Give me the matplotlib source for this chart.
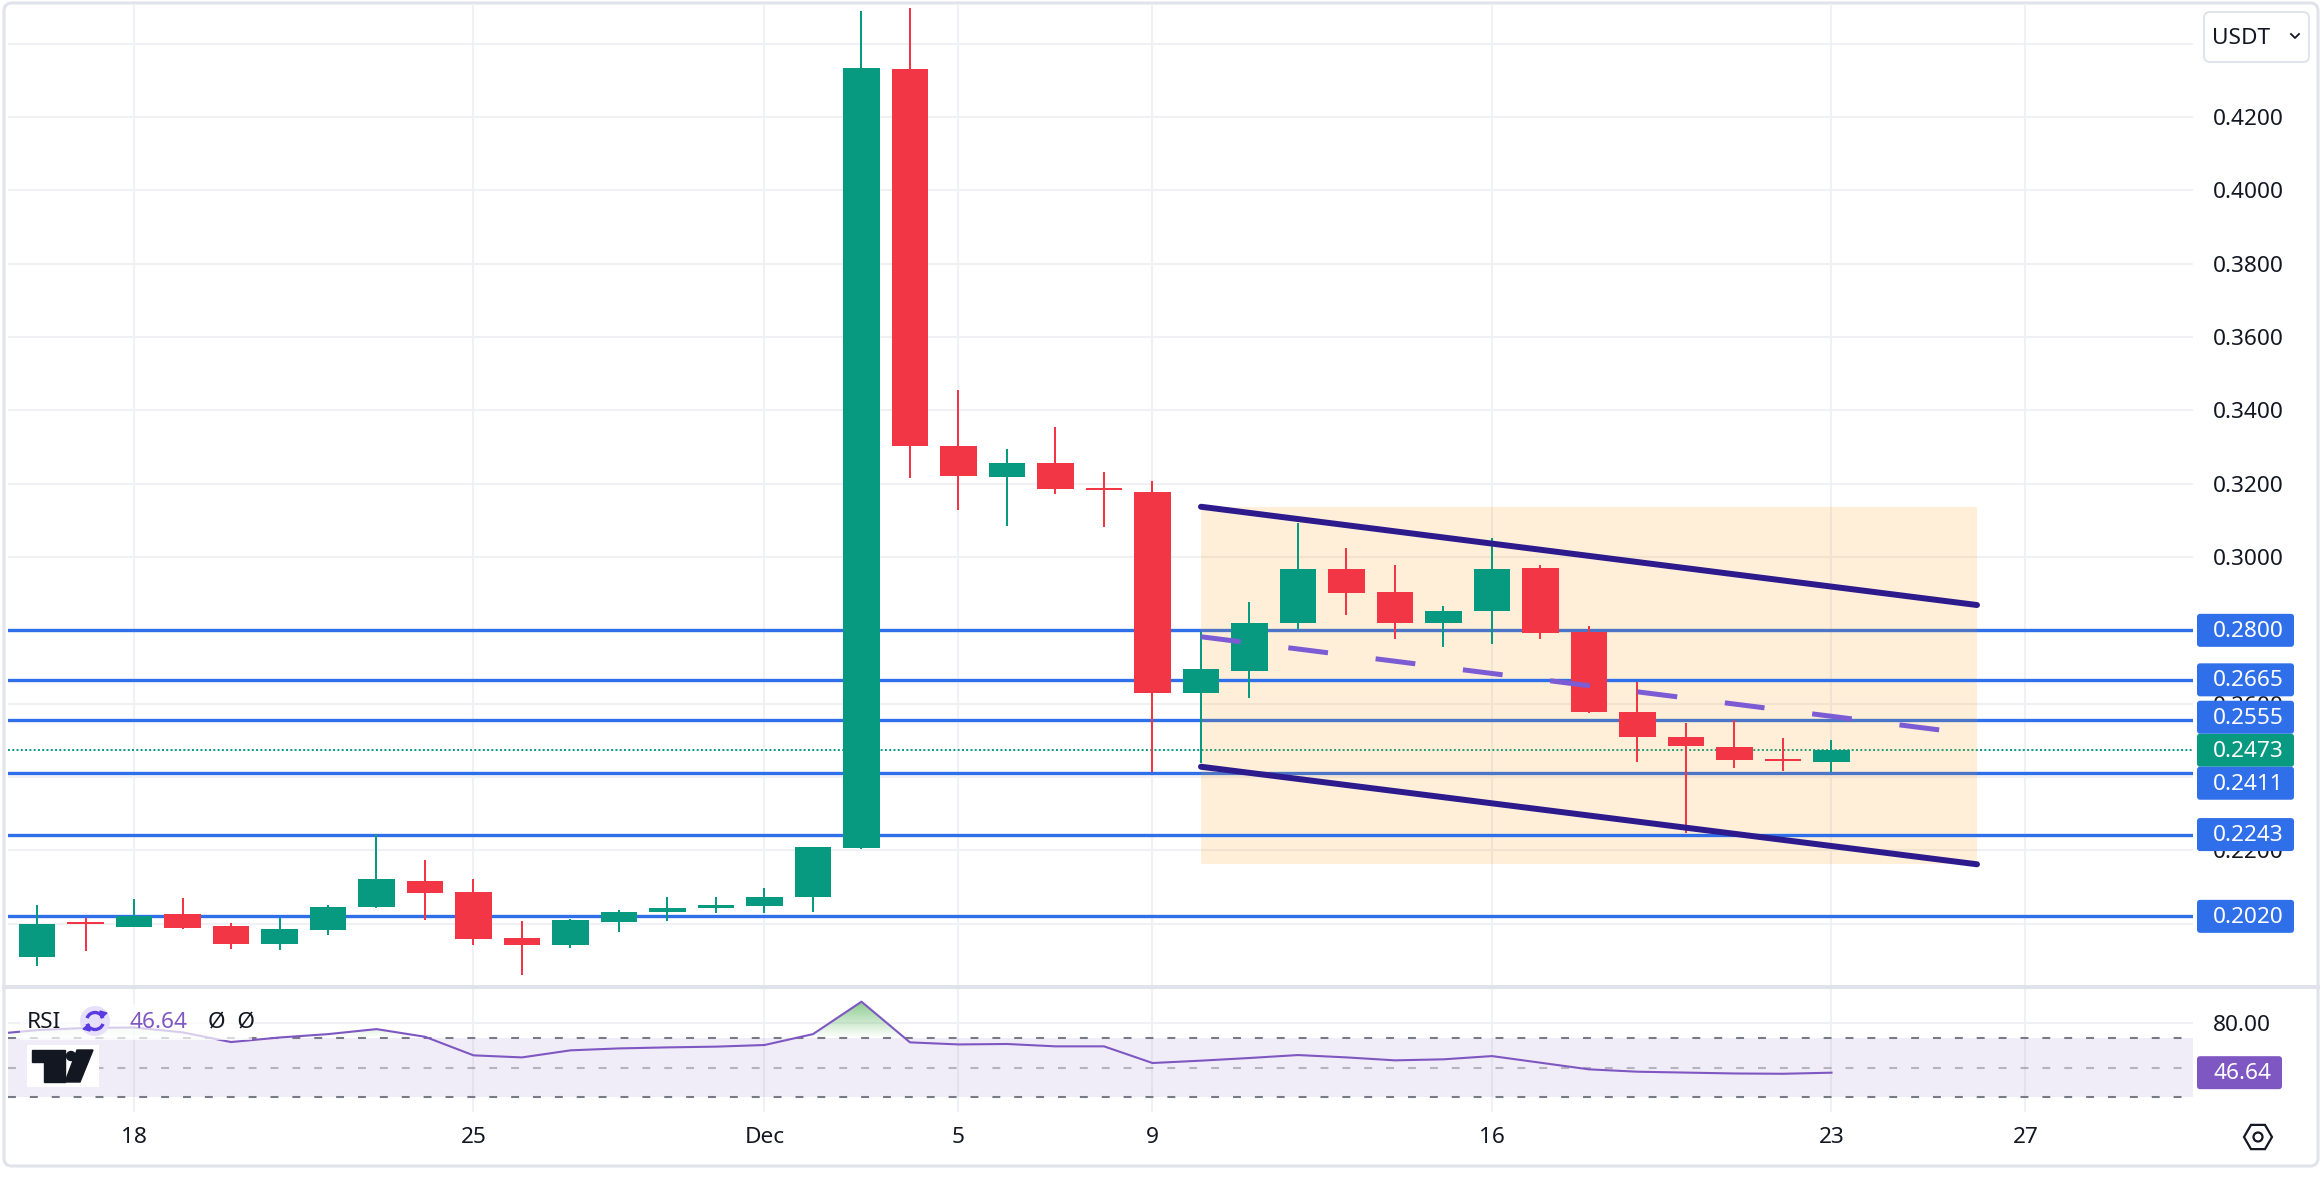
import matplotlib
matplotlib.use('Agg')
import matplotlib.pyplot as plt
from matplotlib.patches import FancyBboxPatch, Rectangle, Polygon, Circle, RegularPolygon, Arc
from matplotlib.colors import LinearSegmentedColormap
from matplotlib.path import Path
import numpy as np

plt.rcParams['font.family'] = ['Noto Sans', 'DejaVu Sans']

# day index: 0 = 16 Nov
days = np.arange(38)
opens = [0.1908, 0.2003, 0.1992, 0.2026, 0.1994, 0.1945, 0.1982, 0.2045, 0.2116, 0.2086,
         0.1961, 0.1943, 0.2005, 0.2031, 0.2042, 0.2048, 0.2072, 0.2207, 0.4331, 0.3304,
         0.3219, 0.3255, 0.3187, 0.3177, 0.2628, 0.2690, 0.2819, 0.2967, 0.2905, 0.2821,
         0.2854, 0.2969, 0.2795, 0.2578, 0.2510, 0.2483, 0.2448, 0.2440]
highs = [0.2051, 0.2016, 0.2067, 0.2069, 0.2001, 0.2016, 0.2051, 0.2245, 0.2174, 0.2121,
         0.2008, 0.2013, 0.2037, 0.2073, 0.2073, 0.2097, 0.2209, 0.4490, 0.4498, 0.3455,
         0.3294, 0.3355, 0.3231, 0.3208, 0.2796, 0.2876, 0.3094, 0.3024, 0.2978, 0.2867,
         0.3051, 0.2978, 0.2813, 0.2660, 0.2546, 0.2556, 0.2506, 0.2501]
lows = [0.1885, 0.1925, 0.1990, 0.1986, 0.1931, 0.1928, 0.1968, 0.2044, 0.2011, 0.1942,
        0.1860, 0.1935, 0.1976, 0.2008, 0.2028, 0.2028, 0.2033, 0.2205, 0.3216, 0.3128,
        0.3085, 0.3172, 0.3081, 0.2413, 0.2437, 0.2615, 0.2803, 0.2842, 0.2776, 0.2754,
        0.2762, 0.2776, 0.2575, 0.2442, 0.2247, 0.2424, 0.2417, 0.2413]
closes = [0.2000, 0.1999, 0.2022, 0.1989, 0.1945, 0.1986, 0.2045, 0.2121, 0.2083, 0.1958,
          0.1943, 0.2010, 0.2032, 0.2043, 0.2051, 0.2074, 0.2208, 0.4333, 0.3302, 0.3221,
          0.3255, 0.3186, 0.3183, 0.2628, 0.2694, 0.2819, 0.2967, 0.2903, 0.2819, 0.2853,
          0.2967, 0.2794, 0.2578, 0.2510, 0.2485, 0.2446, 0.2444, 0.2473]

rsi_days = np.arange(-1, 38)
rsi = [72.5, 75.5, 77.0, 77.3, 74.0, 67.4, 70.5, 72.8, 76.2, 71.0,
       58.4, 57.0, 61.8, 63.1, 63.8, 64.3, 65.4, 72.8, 94.8, 67.2,
       65.8, 66.1, 64.5, 64.5, 53.2, 54.8, 56.6, 58.6, 57.0, 55.0,
       55.7, 57.9, 53.4, 48.9, 47.3, 46.7, 46.1, 45.9, 46.64]

tick_days = [2, 9, 15, 19, 23, 30, 37, 41]
tick_labels = ['18', '25', 'Dec', '5', '9', '16', '23', '27']

levels = [0.2800, 0.2665, 0.2555, 0.2411, 0.2243, 0.2020]
level_on_top = [False, True, False, False, True, True]
last_price = 0.2473
rsi_last = 46.64

chan_x = [24, 40]
chan_upper = [0.3137, 0.2869]
chan_lower = [0.2428, 0.2162]

GREEN = '#089981'
RED = '#f23645'
BLUE = '#2f6fea'
PURPLE = '#7e57c2'
TXT = '#131722'
GRID = '#f0f1f5'
FS = 16.3

W, H = 2323, 1180
fig = plt.figure(figsize=(W / 100, H / 100), dpi=100)


def fx(px):
    return px / W


def fy(py):
    return 1 - py / H


ax = fig.add_axes([fx(8), fy(985), fx(2193) - fx(8), fy(5) - fy(985)])
ax2 = fig.add_axes([fx(8), fy(1112), fx(2193) - fx(8), fy(989) - fy(1112)])
xlim = (-0.598, 44.454)

# ---- price pane ----
ax.set_xlim(*xlim)
ax.set_ylim(0.18328, 0.45053)
yt = np.round(np.arange(0.20, 0.441, 0.02), 2)
ax.set_yticks(yt, [f'{v:.4f}' for v in yt])
ax.set_xticks(tick_days)
ax.yaxis.tick_right()
ax.tick_params(axis='y', length=0, pad=14.4, labelsize=FS, labelcolor=TXT)
ax.tick_params(axis='x', length=0, labelbottom=False)
ax.set_axisbelow(True)
ax.grid(color=GRID, lw=1.5)
for s in ax.spines.values():
    s.set_visible(False)

for lv, top in zip(levels, level_on_top):
    ax.axhline(lv, color=BLUE, lw=2.4, zorder=4 if top else 2)
ax.axhline(last_price, color=GREEN, lw=1.4, ls=(0, (1, 1.2)), zorder=2)

ax.add_patch(Rectangle((chan_x[0], min(chan_lower)), chan_x[1] - chan_x[0],
                       max(chan_upper) - min(chan_lower), facecolor='#ff9800',
                       alpha=0.15, edgecolor='none', zorder=3))

o = np.array(opens); c = np.array(closes)
cols = [GREEN if cc >= oo else RED for oo, cc in zip(o, c)]
ax.vlines(days, lows, highs, colors=cols, lw=1.44, zorder=5)
body = np.maximum(np.abs(c - o), 0.0006)
ax.bar(days, body, bottom=(o + c) / 2 - body / 2, width=0.76, color=cols, zorder=6)

mid = [(u + l) / 2 for u, l in zip(chan_upper, chan_lower)]
ax.plot(chan_x, mid, color='#7c5cd4', lw=3.6, dashes=(8, 9.6), solid_capstyle='butt',
        zorder=7)
ax.plot(chan_x, chan_upper, color='#2d1b8e', lw=4.3, solid_capstyle='round', zorder=8)
ax.plot(chan_x, chan_lower, color='#2d1b8e', lw=4.3, solid_capstyle='round', zorder=8)

# ---- RSI pane ----
ax2.set_xlim(*xlim)
ax2.set_ylim(19.97, 103.4)
ax2.set_yticks([80], ['80.00'])
ax2.yaxis.tick_right()
ax2.set_xticks(tick_days, tick_labels)
ax2.tick_params(axis='y', length=0, pad=14.4, labelsize=FS, labelcolor=TXT)
ax2.tick_params(axis='x', length=0, pad=11, labelsize=FS, labelcolor=TXT)
for lbl in ax2.get_xticklabels():
    if lbl.get_text() == 'Dec':
        lbl.set_fontweight('bold')
ax2.set_axisbelow(True)
ax2.grid(color=GRID, lw=1.5)
for s in ax2.spines.values():
    s.set_visible(False)

ax2.axhspan(30, 70, color=PURPLE, alpha=0.1, lw=0, zorder=1)
ax2.axhline(70, color='#787b86', lw=1.5, dashes=(3.8, 6.7), zorder=2)
ax2.axhline(30, color='#787b86', lw=1.5, dashes=(3.8, 6.7), zorder=2)
ax2.axhline(50, color='#787b86', lw=1.5, alpha=0.5, dashes=(3.8, 6.7), zorder=2)

r = np.array(rsi)
fb = ax2.fill_between(rsi_days, r, 70, where=r > 70, interpolate=True,
                      facecolor='none', edgecolor='none')
clip = Path.make_compound_path(*fb.get_paths())
cmap = LinearSegmentedColormap.from_list(
    'ob', [(0.30, 0.69, 0.31, 0.0), (0.30, 0.69, 0.31, 0.8)])
im = ax2.imshow(np.linspace(0, 1, 200).reshape(-1, 1), extent=(-1, 38, 70, 100),
                origin='lower', aspect='auto', cmap=cmap, zorder=2.5)
im.set_clip_path(clip, transform=ax2.transData)
ax2.plot(rsi_days, r, color=PURPLE, lw=1.5, zorder=3)
ax2.set_xlim(*xlim)
ax2.set_ylim(19.97, 103.4)

# ---- overlay in pixel coordinates ----
ov = fig.add_axes([0, 0, 1, 1])
ov.set_xlim(0, W)
ov.set_ylim(H, 0)
ov.axis('off')
ov.set_zorder(10)
ov.patch.set_visible(False)


def py(axis, v):
    return H - axis.transData.transform((0, v))[1]


def tag(yc, text, color, x0=2197, w=97):
    ov.add_patch(FancyBboxPatch((x0, yc - 16.5), w, 33,
                                boxstyle='round,pad=0,rounding_size=3',
                                fc=color, ec='none'))
    ov.text(2213, yc + 1, text, color='white', fontsize=FS, ha='left', va='center')


hbox = 33
placed = [py(ax, last_price)]
tags = [(placed[0], f'{last_price:.4f}', GREEN)]
for lv in sorted(levels, key=lambda v: abs(v - last_price)):
    yc = py(ax, lv)
    for p in placed:
        if abs(yc - p) < hbox:
            yc = p - hbox if yc < p else p + hbox
    placed.append(yc)
    tags.append((yc, f'{lv:.4f}', BLUE))
for yc, t, col in tags:
    tag(yc, t, col)
tag(py(ax2, rsi_last), f'{rsi_last:.2f}', PURPLE, w=85)

# tick labels that sit completely under a price tag or the currency button are hidden
covers = [(p - 16.5, p + 16.5) for p in placed] + [(12, 62)]
for v, lbl in zip(yt, ax.get_yticklabels()):
    yl = py(ax, v)
    if any(a <= yl - 8 and yl + 8 <= b for a, b in covers):
        lbl.set_visible(False)

# frame and separator
ov.add_patch(FancyBboxPatch((4, 3), 2314, 1163, boxstyle='round,pad=0,rounding_size=8',
                            fc='none', ec='#e0e3eb', lw=2.2))
ov.plot([4, 2318], [987, 987], color='#e0e3eb', lw=2.9)

# currency button
ov.add_patch(FancyBboxPatch((2204, 12), 105, 50, boxstyle='round,pad=0,rounding_size=6',
                            fc='white', ec='#e0e3eb', lw=1.4))
ov.text(2212, 38, 'USDT', fontsize=FS, color=TXT, ha='left', va='center')
ov.plot([2291, 2295, 2299], [34, 38, 34], color=TXT, lw=1.3)

# settings icon
ov.add_patch(RegularPolygon((2258, 1137), numVertices=6, radius=14,
                            orientation=np.pi / 2, fill=False, ec=TXT, lw=1.6))
ov.add_patch(Circle((2258, 1137), 4.5, fill=False, ec=TXT, lw=1.6))

# RSI legend
ov.add_patch(Rectangle((20, 1004), 232, 36, fc='white', alpha=0.7, ec='none'))
ov.text(27, 1022, 'RSI', fontsize=FS, color=TXT, ha='left', va='center')
ov.add_patch(Circle((95, 1021), 15, fc='#e6e0fa', ec='none'))
ov.add_patch(Arc((95, 1021), 17, 17, theta1=200, theta2=340, color='#5a3be0', lw=2.4))
ov.add_patch(Arc((95, 1021), 17, 17, theta1=20, theta2=160, color='#5a3be0', lw=2.4))
ov.add_patch(Polygon([[100, 1011], [107, 1013], [101, 1018]], color='#5a3be0'))
ov.add_patch(Polygon([[90, 1031], [83, 1029], [89, 1024]], color='#5a3be0'))
ov.text(130, 1022, f'{rsi_last:.2f}', fontsize=FS, color=PURPLE, ha='left', va='center')
ov.text(208, 1022, 'Ø  Ø', fontsize=FS, color=TXT, ha='left', va='center')

# logo
ov.add_patch(Rectangle((27, 1045), 72, 42, fc='white', ec='none'))
ov.add_patch(Polygon([[32, 1050], [65, 1050], [65, 1082], [44, 1082], [44, 1062], [32, 1062]],
                     color=TXT))
ov.add_patch(Circle((71, 1056), 4.5, color=TXT))
ov.add_patch(Polygon([[77, 1050], [93, 1050], [80, 1082], [65, 1082]], color=TXT))

fig.savefig('out.png', dpi=100)
